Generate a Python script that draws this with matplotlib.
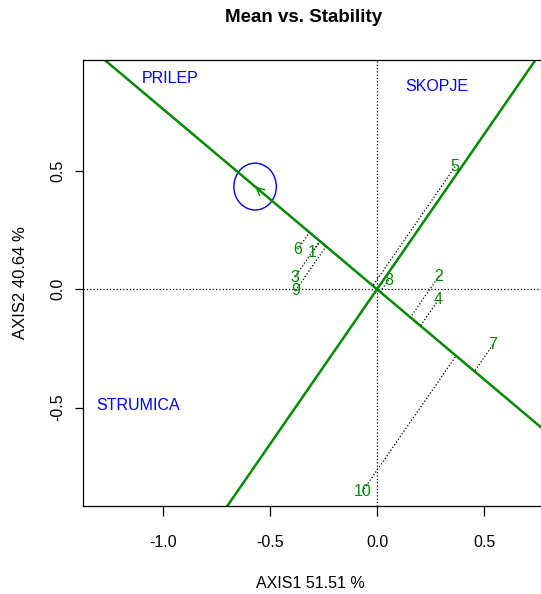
import numpy as np
import matplotlib
matplotlib.use("Agg")
import matplotlib.pyplot as plt
from matplotlib.patches import Ellipse

plt.rcParams['font.family'] = ['Liberation Sans', 'DejaVu Sans']
plt.rcParams['axes.unicode_minus'] = False

# genotype scores (axis1, axis2)
gen_labels = ['1', '2', '3', '4', '5', '6', '7', '8', '9', '10']
gen_x = [-0.302, 0.289, -0.384, 0.286, 0.364, -0.370, 0.540, 0.053, -0.381, -0.069]
gen_y = [0.155, 0.056, 0.051, -0.045, 0.518, 0.169, -0.235, 0.039, -0.006, -0.855]

# environment scores
env_labels = ['PRILEP', 'SKOPJE', 'STRUMICA']
env_x = [-0.966, 0.277, -1.116]
env_y = [0.889, 0.859, -0.492]

# average environment coordinate (circle centre)
avg_env = (-0.569, 0.434)
circle_r = 0.099

green = '#008B00'
blue = '#0000FF'

fig = plt.figure(figsize=(5.41, 5.94), dpi=100)
ax = fig.add_axes([83 / 541, 88 / 594, 1.0 - 83 / 541 + 0.01, 446 / 594])
ax.set_xlim(-1.372, 0.765 + 5.4 / 214.3)
ax.set_ylim(-0.916, 0.969)

# reference lines through origin
ax.axhline(0, color='black', ls=':', lw=0.9)
ax.axvline(0, color='black', ls=':', lw=0.9)

# average environment axis and its perpendicular
ax_dir = np.array(avg_env) / np.linalg.norm(avg_env)
slope = ax_dir[1] / ax_dir[0]
ax.axline((0, 0), slope=slope, color=green, lw=1.8)
ax.axline((0, 0), slope=-1 / slope, color=green, lw=1.8)

# projections of genotypes on the AEA
for gx, gy in zip(gen_x, gen_y):
    p = np.dot([gx, gy], ax_dir) * ax_dir
    ax.plot([gx, p[0]], [gy, p[1]], color='black', ls=':', lw=0.9)

for lab, gx, gy in zip(gen_labels, gen_x, gen_y):
    ax.text(gx, gy, lab, color=green, fontsize=11.5, ha='center', va='center')

for lab, ex, ey in zip(env_labels, env_x, env_y):
    ax.text(ex, ey, lab, color=blue, fontsize=11.5, ha='center', va='center')

# circle and arrow of the average environment
ax.add_patch(Ellipse(avg_env, 2 * circle_r, 2 * circle_r, fill=False,
                     edgecolor=blue, lw=1.0))
ax.annotate('', xy=avg_env, xytext=(avg_env[0] * 0.9, avg_env[1] * 0.9),
            arrowprops=dict(arrowstyle='->', color=green, lw=1.0,
                            mutation_scale=14, shrinkA=0, shrinkB=0))

ax.set_xticks([-1.0, -0.5, 0.0, 0.5])
ax.set_yticks([-0.5, 0.0, 0.5])
ax.tick_params(axis='x', length=7, width=0.9, pad=14, labelsize=11.5)
ax.tick_params(axis='y', length=6, width=0.9, pad=7, labelsize=11.5,
               labelrotation=90)
for t in ax.get_yticklabels():
    t.set_va('center')
ax.spines['right'].set_visible(False)
for s in ['left', 'bottom', 'top']:
    ax.spines[s].set_linewidth(0.9)

fig.text(304 / 541, 1 - 18 / 594, 'Mean vs. Stability', fontsize=13.5,
         fontweight='bold', ha='center', va='center')
fig.text(310 / 541, 1 - 583 / 594, 'AXIS1 51.51 %', fontsize=11.5,
         ha='center', va='center')
fig.text(21 / 541, 1 - 283 / 594, 'AXIS2 40.64 %', fontsize=12,
         ha='center', va='center', rotation=90)

fig.savefig('out.png', dpi=100)
